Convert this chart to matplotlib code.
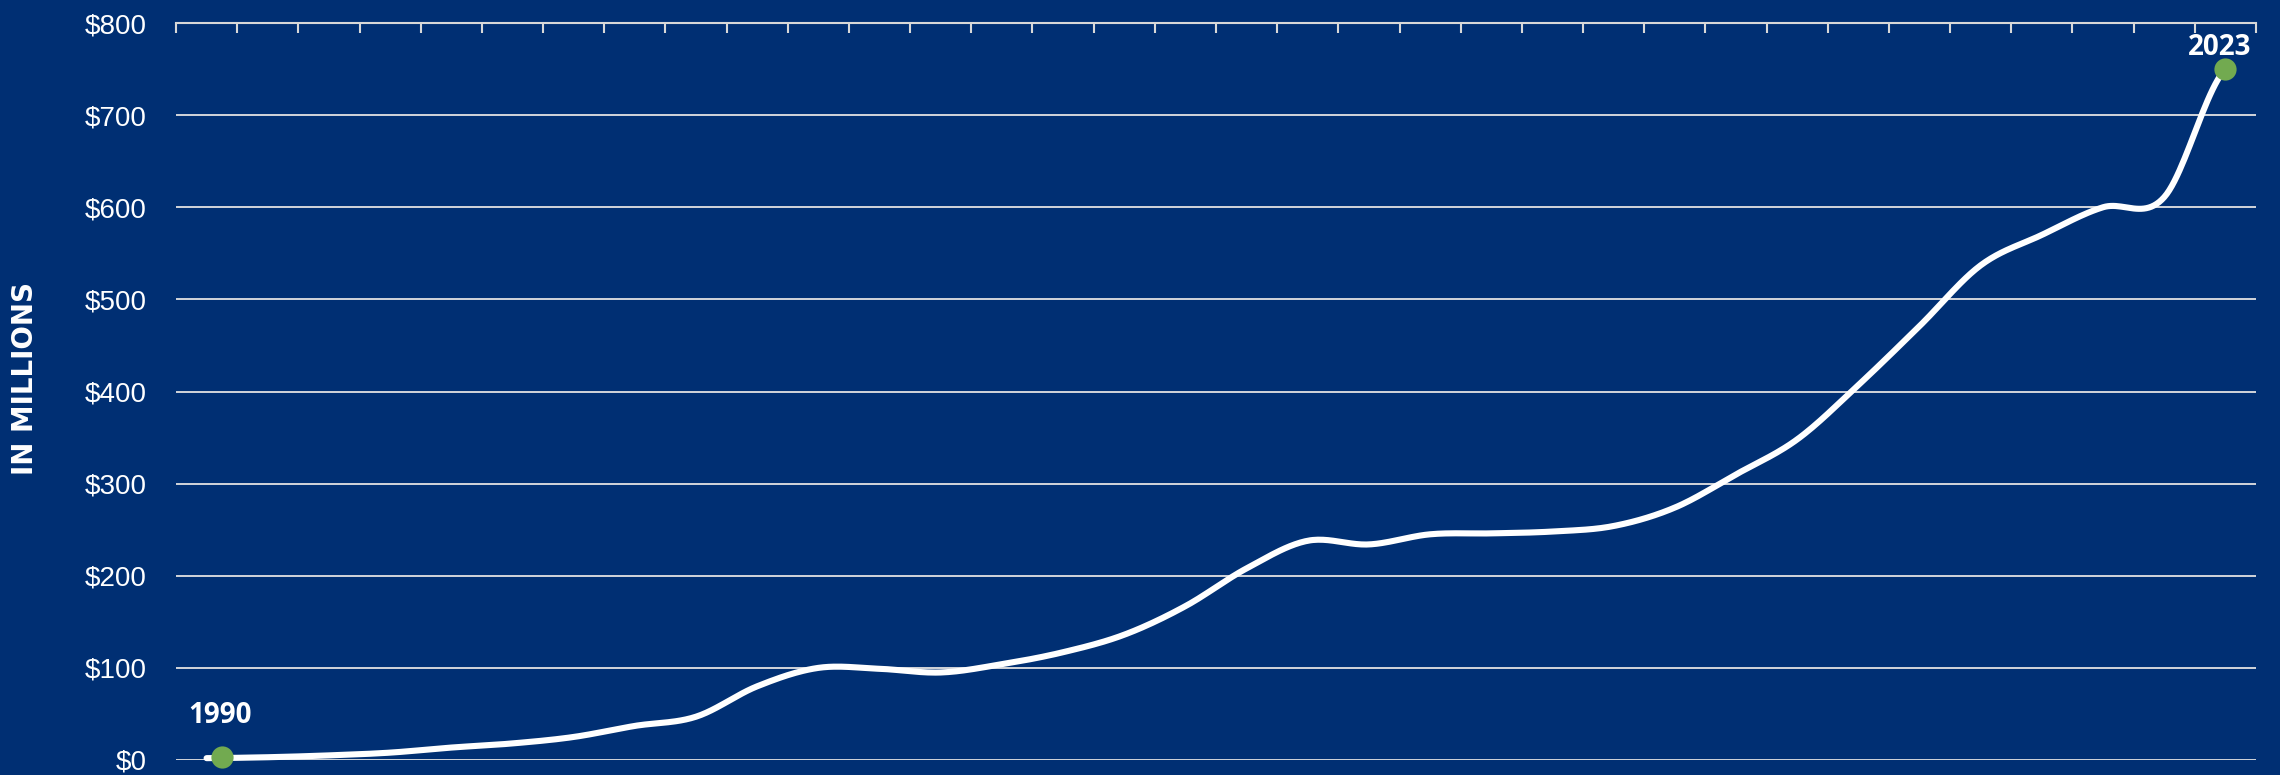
import numpy as np
import matplotlib.pyplot as plt
import matplotlib.transforms as mtransforms

# Data (in millions of dollars)
years = np.arange(1990, 2024)
values = np.array([2, 3, 5, 8, 13.5, 18, 25, 37, 47, 80,
                   100, 99, 95, 104, 117, 136, 167, 208, 238, 234,
                   245, 246, 248, 254, 274, 310, 348, 407, 471, 537,
                   570, 600, 611, 750])
y_ticks = np.arange(0, 900, 100)
y_labels = ['$%d' % v for v in y_ticks]
ylabel = 'IN MILLIONS'

bg = '#002F73'
green = '#72AA50'


def cardinal(x, y, n=24):
    # smooth line through the points (cardinal spline, tension 0)
    m = np.zeros_like(y, dtype=float)
    m[1:-1] = (y[2:] - y[:-2]) / 2
    m[0] = (y[1] - y[0]) / 2
    m[-1] = (y[-1] - y[-2]) / 2
    xs, ys = [], []
    t = np.linspace(0, 1, n, endpoint=False)
    h00 = 2 * t**3 - 3 * t**2 + 1
    h10 = t**3 - 2 * t**2 + t
    h01 = -2 * t**3 + 3 * t**2
    h11 = t**3 - t**2
    for i in range(len(x) - 1):
        dx = x[i + 1] - x[i]
        xs.append(x[i] + t * dx)
        ys.append(h00 * y[i] + h10 * m[i] + h01 * y[i + 1] + h11 * m[i + 1])
    xs.append([x[-1]])
    ys.append([y[-1]])
    return np.concatenate(xs), np.concatenate(ys)


fig = plt.figure(figsize=(22.8, 7.75), dpi=100, facecolor=bg)
ax = fig.add_axes([176 / 2280, 15 / 775, 2080 / 2280, 737 / 775])
ax.set_facecolor(bg)

sx, sy = cardinal(years.astype(float), values.astype(float))
ax.plot(sx, sy, color='white', lw=4.4, solid_capstyle='round', zorder=3, clip_on=False)

# end point markers
shift = mtransforms.offset_copy(ax.transData, fig=fig, x=11, y=1, units='points')
ax.plot(years[0], values[0], 'o', ms=16, color=green, mec='none', zorder=4,
        clip_on=False, transform=shift)
ax.plot(years[-1], values[-1], 'o', ms=16, color=green, mec='none', zorder=4,
        clip_on=False)

ax.annotate(str(years[0]), (years[0], values[0]), xytext=(10, 25),
            textcoords='offset points', ha='center', va='baseline',
            color='white', fontsize=20, fontweight='bold', family='Open Sans')
ax.annotate(str(years[-1]), (years[-1], values[-1]), xytext=(-4, 10),
            textcoords='offset points', ha='center', va='baseline',
            color='white', fontsize=20, fontweight='bold', family='Open Sans')

ax.set_xlim(years[0] - 0.5, years[-1] + 0.5)
ax.set_ylim(0, 800)

ax.set_yticks(y_ticks)
ax.set_yticklabels(y_labels, family='Liberation Sans', fontsize=20, color='white')
ax.tick_params(axis='y', length=0, pad=21)
ax.grid(axis='y', color='#E2E2E2', lw=1.3)
ax.set_axisbelow(True)

ax.xaxis.tick_top()
ax.set_xticks(np.append(years - 0.5, years[-1] + 0.5))
ax.tick_params(axis='x', direction='in', length=7, width=1.5, color='#D8D8D8',
               labeltop=False, labelbottom=False)

for s in ['left', 'right', 'bottom']:
    ax.spines[s].set_visible(False)
ax.spines['top'].set_color('#D8D8D8')
ax.spines['top'].set_linewidth(1.5)

fig.text(25 / 2280, 1 - 378 / 775, ylabel, rotation=90, ha='center', va='center',
         color='white', fontsize=20, fontweight='bold', family='DejaVu Sans')

fig.savefig('out.png', dpi=100, facecolor=bg)
